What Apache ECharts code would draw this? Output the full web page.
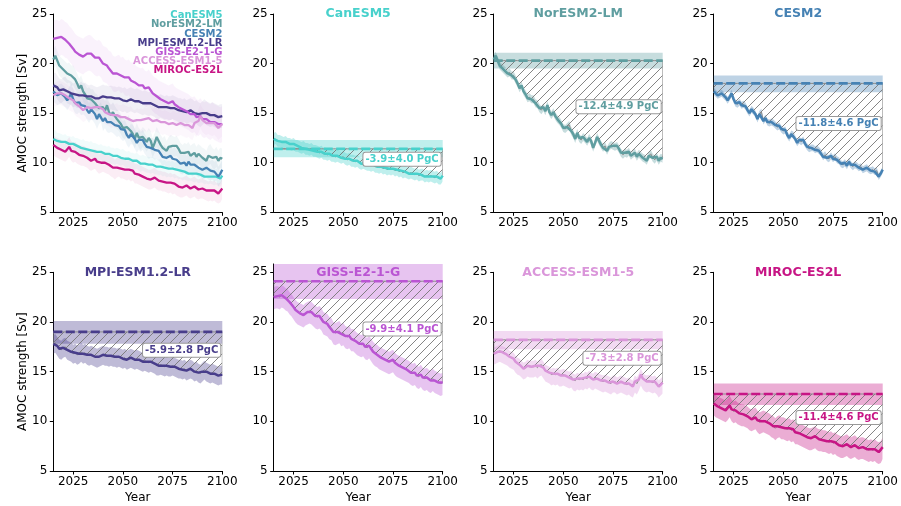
<!DOCTYPE html>
<html><head><meta charset="utf-8">
<script src="https://cdn.jsdelivr.net/npm/echarts@6/dist/echarts.min.js"></script>
<style>html,body{margin:0;padding:0;background:#fff}#c{width:901px;height:506px}</style>
</head><body><div id="c"></div>
<script>
// ---------------- DATA ----------------
const startYear = 2015, endYear = 2100;
const models = ['CanESM5','NorESM2-LM','CESM2','MPI-ESM1.2-LR','GISS-E2-1-G','ACCESS-ESM1-5','MIROC-ES2L'];
const colors = ['#48D1CC','#5F9EA0','#4682B4','#483D8B','#BA55D3','#DA96DA','#C71585'];
const xTicks = [2025, 2050, 2075, 2100];
const yTicks = [5, 10, 15, 20, 25];

const canesm5 = [12.4,12.5,12.2,12.2,12.1,12.0,12.1,11.9,11.9,11.8,
  11.9,11.7,11.7,11.6,11.5,11.6,11.4,11.4,11.3,11.4,
  11.2,11.2,11.1,11.0,11.1,10.9,10.9,10.8,10.9,10.7,
  10.7,10.6,10.7,10.6,10.5,10.6,10.4,10.3,10.4,10.2,
  10.2,10.1,10.2,10.0,9.9,10.0,9.9,9.8,9.8,9.7,
  9.8,9.6,9.6,9.5,9.6,9.4,9.5,9.3,9.4,9.3,
  9.4,9.2,9.3,9.1,9.2,9.0,9.1,9.0,8.9,9.0,
  8.9,8.8,8.9,8.7,8.8,8.8,8.6,8.7,8.6,8.7,
  8.6,8.5,8.6,8.4,8.4,8.7];
const noresm2lm = [20.4,20.8,20.3,19.8,19.6,19.4,19.2,19.0,19.1,18.8,
  18.8,18.4,18.0,17.5,17.8,17.2,16.9,16.5,16.6,16.4,
  16.4,16.0,15.9,15.5,15.3,15.6,15.2,15.8,15.1,14.8,
  15.1,14.7,14.4,14.2,13.9,13.5,13.4,13.6,13.8,13.2,
  12.9,12.4,13.0,12.5,12.3,12.6,12.4,12.1,12.5,12.2,
  11.5,12.0,12.6,12.2,11.8,11.5,11.7,11.2,11.6,11.8,
  11.7,11.6,11.7,11.4,11.0,10.8,11.0,10.9,11.1,10.7,
  10.9,11.0,10.6,10.9,10.7,10.5,10.4,10.2,10.7,10.9,
  10.5,10.3,10.6,10.2,10.5,10.4];
const cesm2 = [17.2,17.0,16.8,16.9,17.0,16.8,16.6,16.3,16.6,17.0,
  16.4,16.0,15.9,16.1,15.8,15.9,15.7,15.3,15.0,15.4,
  15.2,14.9,14.4,14.9,15.1,14.2,14.5,14.1,14.0,14.1,
  14.0,13.8,13.6,13.7,13.4,13.2,13.3,12.8,12.5,12.9,
  12.8,12.4,12.0,12.3,12.1,12.3,11.9,11.6,11.4,11.5,
  11.5,11.3,11.4,11.2,11.0,10.6,10.8,10.5,10.4,10.7,
  10.4,10.6,10.3,10.2,9.9,9.8,10.0,9.7,10.1,9.8,
  9.6,9.8,9.7,9.5,9.6,9.3,9.4,9.5,9.3,9.2,
  9.3,9.1,9.2,8.6,8.9,9.3];
const mpiesm = [17.8,17.9,17.6,17.3,17.2,17.4,17.5,17.2,17.1,17.0,
  16.8,16.9,16.7,16.8,17.0,16.8,16.9,16.7,16.6,16.7,
  16.6,16.5,16.4,16.5,16.6,16.7,16.6,16.6,16.5,16.6,
  16.5,16.5,16.4,16.5,16.4,16.3,16.4,16.2,16.3,16.4,
  16.3,16.2,16.3,16.2,16.1,16.0,16.1,16.0,15.9,16.0,
  15.9,15.8,15.6,15.6,15.7,15.6,15.5,15.6,15.5,15.5,
  15.6,15.5,15.4,15.3,15.3,15.2,15.3,15.1,15.2,15.3,
  15.2,15.0,15.1,14.9,14.8,15.0,15.2,15.0,14.9,14.8,
  14.9,14.8,14.7,14.6,14.7,14.7];
const giss = [22.5,22.6,22.6,22.5,22.7,22.6,22.4,22.3,22.0,21.8,
  21.5,21.2,21.0,20.9,20.8,20.7,20.9,21.0,21.1,21.0,
  20.8,20.6,20.5,20.6,20.4,20.0,19.9,19.8,19.5,19.4,
  19.0,18.9,19.0,19.1,18.8,18.9,18.6,18.5,18.6,18.3,
  18.3,18.1,17.9,17.8,17.7,17.8,17.5,17.4,17.6,17.3,
  17.0,16.8,16.7,16.5,16.4,16.3,16.2,16.1,16.0,16.1,
  16.2,15.9,15.7,15.6,15.5,15.4,15.3,15.2,15.1,14.9,
  14.8,14.9,14.6,14.5,14.7,14.4,14.3,14.4,14.2,14.1,
  14.3,14.1,14.0,13.9,13.8,13.9];
const access = [16.8,16.9,17.0,17.1,17.0,16.9,16.8,16.7,16.5,16.4,
  16.3,16.0,15.8,15.7,15.5,15.3,15.4,15.6,15.5,15.5,
  15.5,15.6,15.4,15.6,15.7,15.4,15.1,15.0,14.9,14.7,
  14.8,14.7,14.8,14.6,14.6,14.7,14.6,14.5,14.4,14.5,
  14.2,14.1,14.3,14.2,14.3,14.2,14.4,14.3,14.5,14.3,
  14.2,14.4,14.3,14.2,14.1,14.0,14.1,14.0,13.9,13.8,
  14.0,14.0,13.8,13.9,14.0,13.9,13.8,13.7,13.8,13.6,
  13.5,14.0,13.8,14.2,14.7,14.3,14.1,14.0,14.1,14.0,
  13.9,14.0,13.8,13.5,13.7,13.9];
const miroc = [11.8,11.6,11.5,11.4,11.3,11.2,11.1,11.3,11.6,11.2,
  11.0,11.1,10.9,10.8,10.7,10.7,10.6,10.5,10.3,10.2,
  10.3,10.4,10.1,9.9,10.0,10.1,10.0,9.9,9.8,9.6,
  9.5,9.3,9.5,9.6,9.4,9.4,9.3,9.2,9.3,9.1,
  9.2,8.9,8.9,8.8,8.7,8.6,8.5,8.4,8.3,8.3,
  8.4,8.5,8.3,8.2,8.2,8.1,8.1,8.0,7.9,8.0,
  7.8,7.9,7.7,7.6,7.5,7.5,7.6,7.7,7.5,7.4,
  7.5,7.6,7.4,7.3,7.4,7.4,7.3,7.2,7.1,7.2,
  7.1,7.2,7.0,6.9,7.0,7.4];
const means = [canesm5, noresm2lm, cesm2, mpiesm, giss, access, miroc];

// ensemble spread around each mean (below, above), Sv
const bandBelow = [0.6, 0.4, 0.35, 1.0, 1.25, 1.1, 1.2];
const bandAbove = [0.6, 0.4, 0.35, 0.9, 1.0, 0.6, 1.0];
// overview panel spread
const overviewSpread = [0.8, 1.0, 1.0, 1.2, 1.8, 1.2, 1.0];
// baseline (pre-industrial) AMOC and its range
const baselines    = [11.4, 20.3, 18.0, 19.0, 24.1, 18.2, 12.75];
const baselineLow  = [10.55, 19.5, 17.1, 17.8, 22.3, 17.25, 11.65];
const baselineHigh = [12.3, 21.1, 18.8, 20.1, 25.84, 19.1, 13.8];
const carbonLabels = ['-3.9±4.0 PgC','-12.4±4.9 PgC','-11.8±4.6 PgC','-5.9±2.8 PgC','-9.9±4.1 PgC','-7.3±2.8 PgC','-11.4±4.6 PgC'];

// ---------------- LAYOUT ----------------
const FONT = 'DejaVu Sans';
const colLeft = [53.3, 273.7, 493.7, 713.7];
const gridW = 169;
const rowTop = [14, 272.3];
const rowH = [198.3, 198.7];

const years = [];
for (let y = startYear; y <= endYear; y++) years.push(y);

function rgba(hex, a) {
  const n = parseInt(hex.slice(1), 16);
  return `rgba(${(n >> 16) & 255},${(n >> 8) & 255},${n & 255},${a})`;
}
function hatchCanvas() {
  const s = 9, c = document.createElement('canvas');
  c.width = s; c.height = s;
  const g = c.getContext('2d');
  g.strokeStyle = '#777'; g.lineWidth = 0.9;
  g.beginPath();
  g.moveTo(0, s); g.lineTo(s, 0);
  g.moveTo(-2, 2); g.lineTo(2, -2);
  g.moveTo(s - 2, s + 2); g.lineTo(s + 2, s - 2);
  g.stroke();
  return c;
}
const hatch = hatchCanvas();

const grids = [], xAxes = [], yAxes = [], series = [], graphics = [];

function addAxes(p, yMax) {
  const row = p >= 4 ? 1 : 0, col = p % 4;
  const ppu = rowH[row] / 20;
  const extra = (yMax - 25) * ppu;
  grids.push({ left: colLeft[col], top: rowTop[row] - extra, width: gridW, height: rowH[row] + extra });
  xAxes.push({
    type: 'value', gridIndex: p, min: startYear, max: endYear,
    axisLine: { lineStyle: { color: '#000', width: 1 } },
    axisTick: { length: 3.5, customValues: xTicks, lineStyle: { color: '#000' } },
    axisLabel: { customValues: xTicks, formatter: v => String(v), color: '#000', fontSize: 12, fontFamily: FONT, margin: 5 },
    splitLine: { show: false }
  });
  yAxes.push({
    type: 'value', gridIndex: p, min: 5, max: yMax,
    axisLine: { show: true, lineStyle: { color: '#000', width: 1 } },
    axisTick: { show: true, length: 3.5, customValues: yTicks, lineStyle: { color: '#000' } },
    axisLabel: { customValues: yTicks, formatter: v => String(v), color: '#000', fontSize: 12, fontFamily: FONT, margin: 6 },
    splitLine: { show: false }
  });
}

// polygon between an upper and a lower curve, both given in data coords
function polygon(p, upper, lower, style, clip) {
  series.push({
    type: 'custom', coordinateSystem: 'cartesian2d', xAxisIndex: p, yAxisIndex: p,
    silent: true, animation: false,
    data: [[upper[0][0], upper[0][1]]],
    renderItem: (params, api) => {
      const pts = upper.map(d => api.coord(d)).concat(lower.slice().reverse().map(d => api.coord(d)));
      const cs = params.coordSys;
      const el = { type: 'polygon', shape: { points: pts }, style: Object.assign({}, style) };
      if (clip) el.clipPath = { type: 'rect', shape: { x: cs.x, y: cs.y, width: cs.width, height: cs.height } };
      return el;
    }
  });
}
const lineBase = { type: 'line', symbol: 'none', silent: true, animation: false };

// Panel 0: overview
addAxes(0, 25);
means.forEach((m, i) => {
  polygon(0, m.map((v, k) => [years[k], v + overviewSpread[i]]),
             m.map((v, k) => [years[k], v - overviewSpread[i]]),
             { fill: rgba(colors[i], 0.08) }, true);
});
means.forEach((m, i) => {
  series.push(Object.assign({}, lineBase, {
    xAxisIndex: 0, yAxisIndex: 0, lineStyle: { color: colors[i], width: 2.3 },
    data: m.map((v, k) => [years[k], v])
  }));
  graphics.push({ type: 'text', x: 222.5, y: 15.7 + i * 9.2, z: 100,
    style: { text: models[i], fill: colors[i], font: `bold 10px "${FONT}"`, align: 'right', verticalAlign: 'middle' } });
});

// Panels 1..7: one model each
means.forEach((m, i) => {
  const p = i + 1;
  const yMax = Math.max(25, baselineHigh[i]);
  addAxes(p, yMax);
  const c = colors[i];
  const bl = baselines[i];
  // baseline range
  polygon(p, [[startYear, baselineHigh[i]], [endYear, baselineHigh[i]]],
             [[startYear, baselineLow[i]], [endYear, baselineLow[i]]],
             { fill: rgba(c, 0.35) }, false);
  // ensemble spread
  polygon(p, m.map((v, k) => [years[k], v + bandAbove[i]]),
             m.map((v, k) => [years[k], v - bandBelow[i]]),
             { fill: rgba(c, 0.35) }, true);
  // hatched deficit area
  polygon(p, years.map(y => [y, bl]),
             m.map((v, k) => [years[k], Math.min(v, bl)]),
             { fill: { image: hatch, repeat: 'repeat' }, stroke: '#888', lineWidth: 1 }, true);
  // baseline dashed
  series.push(Object.assign({}, lineBase, {
    xAxisIndex: p, yAxisIndex: p, lineStyle: { color: c, width: 2.6, type: [9, 3.5] },
    data: [[startYear, bl], [endYear, bl]]
  }));
  const last = m[m.length - 1];
  // mean line + label
  series.push(Object.assign({}, lineBase, {
    xAxisIndex: p, yAxisIndex: p, lineStyle: { color: c, width: 2.5 },
    data: m.map((v, k) => [years[k], v]),
    markPoint: {
      silent: true, animation: false, symbol: 'circle', symbolSize: 0,
      data: [{ coord: [endYear, (bl + last) / 2] }],
      label: {
        show: true, position: 'left', distance: 2, offset: [0, -3],
        formatter: carbonLabels[i], color: c, fontWeight: 'bold', fontSize: 10, fontFamily: FONT,
        backgroundColor: '#fff', borderColor: '#999', borderWidth: 1, borderRadius: 2,
        padding: [1, 2, 0, 2], lineHeight: 12
      }
    }
  }));
  const row = p >= 4 ? 1 : 0, col = p % 4;
  graphics.push({ type: 'text', x: colLeft[col] + gridW / 2, y: rowTop[row], z: 100,
    style: { text: models[i], fill: c, font: `bold 12.5px "${FONT}"`, align: 'center', verticalAlign: 'middle' } });
});

// axis titles
[0, 1].forEach(r => {
  graphics.push({ type: 'text', x: 23, y: rowTop[r] + rowH[r] / 2, rotation: Math.PI / 2, z: 100,
    style: { text: 'AMOC strength [Sv]', fill: '#000', font: `12px "${FONT}"`, align: 'center', verticalAlign: 'middle' } });
});
colLeft.forEach(l => {
  graphics.push({ type: 'text', x: l + gridW / 2, y: 498, z: 100,
    style: { text: 'Year', fill: '#000', font: `12px "${FONT}"`, align: 'center', verticalAlign: 'middle' } });
});

const chart = echarts.init(document.getElementById('c'), null, { renderer: 'canvas' });
chart.setOption({
  animation: false, backgroundColor: '#fff',
  grid: grids, xAxis: xAxes, yAxis: yAxes, series: series, graphic: graphics
});
</script></body></html>
